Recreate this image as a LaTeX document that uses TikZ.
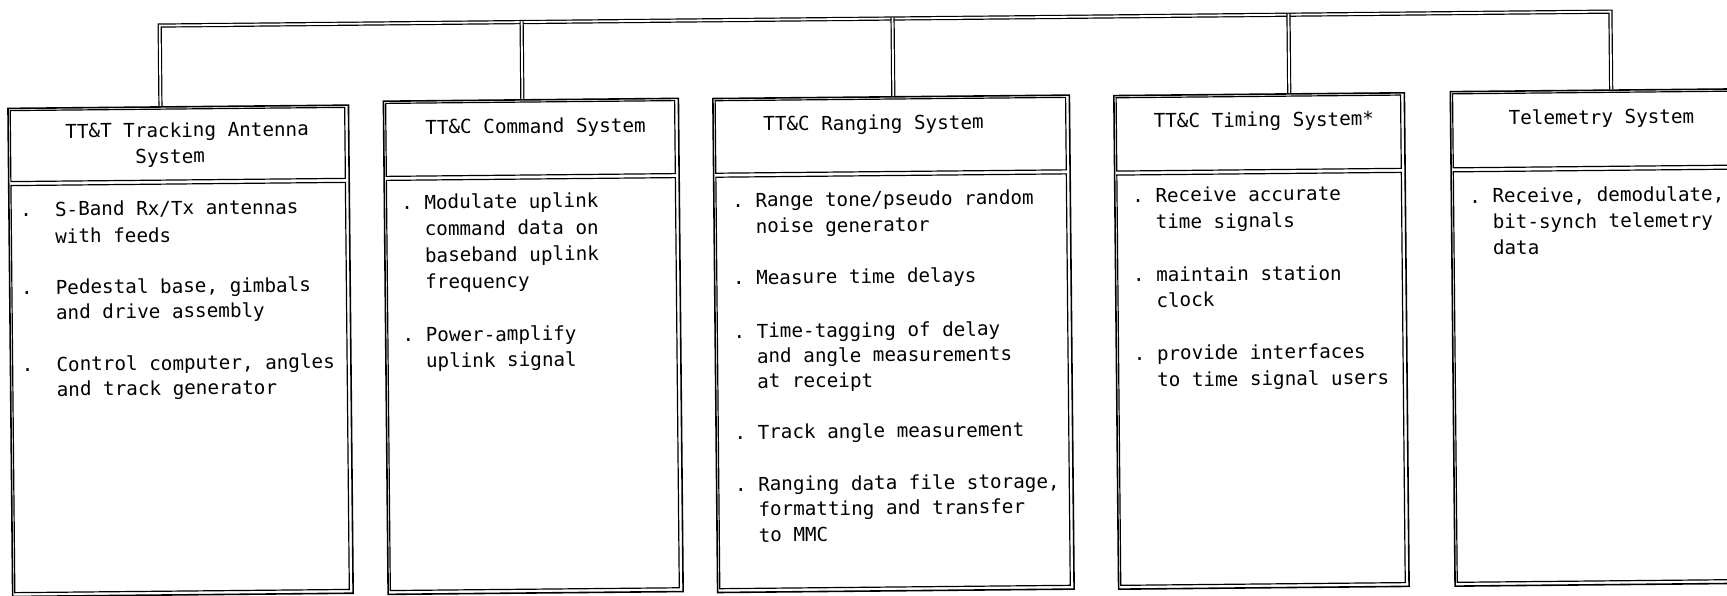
\documentclass[tikz,border=0pt]{standalone}
\usepackage{fontspec}
\newfontfamily\typefont{DejaVu Sans Mono}

% bullets hanging left of the item text (two or three character cells)
\newcommand\bul{\llap{.\hphantom{0}}}
\newcommand\bulw{\llap{.\hphantom{00}}}

% one typed line: name, x, baseline y, text
\newcommand\tline[4]{\node[txt] (#1) at (#2,#3) {#4};}

% one system column: name, left, top, right, bottom, header/body divider
\newcommand\boxcol[6]{%
  \node[colframe, anchor=north west,
        minimum width={(#4-#2)*0.5pt}, minimum height={(#5-#3)*0.5pt}] (#1) at (#2,#3) {};
  \node[cell, anchor=north west,
        minimum width={(#4-#2-6)*0.5pt}, minimum height={(#6-2-#3-3)*0.5pt}] (#1h) at (#2+3,#3+3) {};
  \node[cell, anchor=north west,
        minimum width={(#4-#2-6)*0.5pt}, minimum height={(#5-3-#6-2)*0.5pt}] (#1b) at (#2+3,#6+2) {};
}

\tikzset{
  colframe/.style={draw, line width=0.8pt, inner sep=0pt},
  cell/.style={draw, line width=0.6pt, inner sep=0pt, outer sep=0pt},
  wire/.style={draw, line width=0.6pt, double, double distance=0.9pt, line join=miter},
  txt/.style={anchor=base west, inner sep=0pt, font=\typefont\fontsize{9.63}{13}\selectfont},
}

\begin{document}
\begin{tikzpicture}[x=0.5pt,y=-0.5pt]
\useasboundingbox (0,0) rectangle (1727,595);
\fill[white] (0,0) rectangle (1727,595);
\clip (0,0) rectangle (1727,595);

\begin{scope}[rotate around={0.55:(863.5,297.5)}, transform shape]

% columns
\boxcol{f1}{9}{99.4}{349.5}{587.5}{175.4}
\boxcol{f2}{384.5}{95.8}{679.5}{589}{173.8}
\boxcol{f3}{714}{96.3}{1070.5}{590.3}{173.8}
\boxcol{f4}{1115}{97.2}{1405.5}{590.8}{175.5}
\boxcol{f5}{1451.5}{96.5}{1760}{591}{175.5}

% distribution bus
\coordinate (j1) at (162.3,18.8);
\coordinate (j5) at (1613.3,18.8);
\coordinate (j2) at (524.3,17.9);
\coordinate (j3) at (895.3,17.9);
\coordinate (j4) at (1291.3,17.9);
\draw[wire] (j1 |- f1.north) -- (j1) -- (j5) -- (j5 |- f5.north);
\draw[wire] (j2) -- (j2 |- f2.north);
\draw[wire] (j3) -- (j3 |- f3.north);
\draw[wire] (j4) -- (j4 |- f4.north);

% headers
\tline{h1a}{66.6}{130.5}{TT\&T Tracking Antenna}
\tline{h1b}{136.3}{156.5}{System}
\tline{h2}{426.6}{130}{TT\&C Command System}
\tline{h3}{764.6}{130}{TT\&C Ranging System}
\tline{h4}{1155}{130.5}{TT\&C Timing System*}
\tline{h5}{1510}{131}{Telemetry System}

% tracking antenna
\tline{a1}{55.5}{208.4}{\bulw S-Band Rx/Tx antennas}
\tline{a2}{55.5}{235.4}{with feeds}
\tline{a3}{55.5}{286.4}{\bulw Pedestal base, gimbals}
\tline{a4}{55.5}{311.4}{and drive assembly}
\tline{a5}{55.5}{363.4}{\bulw Control computer, angles}
\tline{a6}{55.5}{388.4}{and track generator}

% command
\tline{b1}{425}{205}{\bul Modulate uplink}
\tline{b2}{425}{231.5}{command data on}
\tline{b3}{425}{258}{baseband uplink}
\tline{b4}{425}{284.5}{frequency}
\tline{b5}{425}{337.5}{\bul Power-amplify}
\tline{b6}{425}{363.5}{uplink signal}

% ranging
\tline{c1}{756}{206}{\bul Range tone/pseudo random}
\tline{c2}{756}{232}{noise generator}
\tline{c3}{756}{283.4}{\bul Measure time delays}
\tline{c4}{756}{337}{\bul Time-tagging of delay}
\tline{c5}{756}{362}{and angle measurements}
\tline{c6}{756}{387}{at receipt}
\tline{c7}{756}{438}{\bul Track angle measurement}
\tline{c8}{756}{490}{\bul Ranging data file storage,}
\tline{c9}{756}{515}{formatting and transfer}
\tline{c10}{756}{541}{to MMC}

% timing
\tline{d1}{1156}{205}{\bul Receive accurate}
\tline{d2}{1156}{231.5}{time signals}
\tline{d3}{1156}{284.5}{\bul maintain station}
\tline{d4}{1156}{310}{clock}
\tline{d5}{1156}{363}{\bul provide interfaces}
\tline{d6}{1156}{389.5}{to time signal users}

% telemetry
\tline{e1}{1493}{209}{\bul Receive, demodulate,}
\tline{e2}{1493}{235}{bit-synch telemetry}
\tline{e3}{1493}{261}{data}

\end{scope}
\end{tikzpicture}
\end{document}
